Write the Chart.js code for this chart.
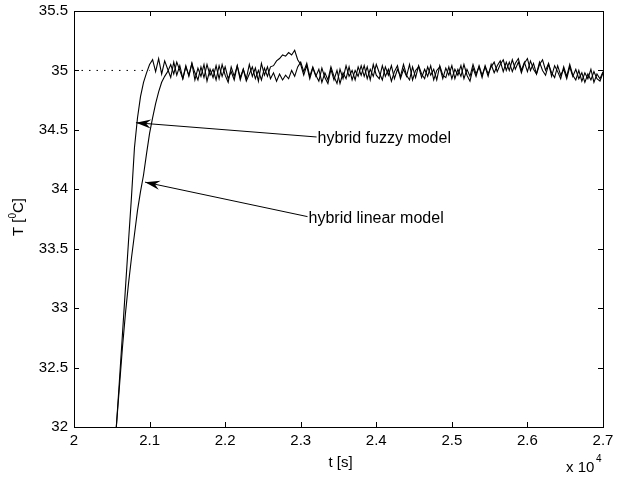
<!DOCTYPE html>
<html>
<head>
<meta charset="utf-8">
<script src="https://cdn.jsdelivr.net/npm/chart.js@4.4.1/dist/chart.umd.min.js"></script>
<style>
  body { margin: 0; background: #fff; }
  #wrap { width: 619px; height: 477px; }
</style>
</head>
<body>
<div id="wrap"><canvas id="c"></canvas></div>
<script>
// sample times (x 10^4 s), uniform grid
var tStart = 2.056, tStep = 0.004, nPts = 162;
var times = [];
for (var i = 0; i < nPts; i++) times.push(+(tStart + tStep * i).toFixed(3));

// hybrid fuzzy model (faster rise)
var fuzzyT = [
  32.00, 32.38, 32.77, 33.16, 33.55, 33.93, 34.35, 34.60, 34.78, 34.90, 34.98, 35.05,
  35.09, 34.99, 35.10, 34.97, 35.08, 35.01, 34.94, 35.07, 34.96, 35.04,
  34.93, 35.03, 34.96, 35.06, 34.92, 35.02, 34.95, 35.05, 34.91, 35.01,
  34.94, 35.04, 34.93, 35.05, 34.96, 34.90, 35.03, 34.95, 35.04, 34.92,
  35.01, 34.93, 35.05, 34.95, 35.02, 34.91, 35.06, 34.96, 35.03, 34.93,
  34.98, 34.91, 34.97, 34.92, 34.96, 34.93, 35.00, 34.95, 35.03, 35.07,
  34.99, 35.06, 34.95, 35.03, 34.96, 34.91, 35.02, 34.94, 34.89, 35.01,
  34.92, 35.00, 34.89, 34.98, 34.93, 35.03, 34.92, 35.00, 34.95, 35.04,
  34.95, 35.03, 34.92, 35.05, 34.96, 34.93, 35.04, 34.95, 35.01, 34.91,
  34.99, 35.04, 34.93, 35.01, 34.95, 35.05, 34.92, 35.00, 35.03, 34.94,
  35.01, 34.95, 35.04, 34.92, 35.00, 35.03, 34.93, 35.02, 34.96, 35.04,
  34.93, 35.01, 34.95, 35.05, 34.96, 34.91, 35.02, 34.95, 35.04, 34.96,
  35.03, 34.95, 35.05, 34.98, 35.04, 35.08, 34.99, 35.07, 35.00, 35.09,
  35.01, 35.07, 34.98, 35.06, 35.10, 35.00, 35.06, 34.97, 35.05, 35.09,
  35.00, 35.06, 34.95, 35.04, 34.99, 34.93, 35.03, 34.95, 35.05, 34.96,
  34.92, 35.00, 34.91, 34.98, 34.93, 35.01, 34.90, 34.97, 34.93, 34.99
];

// hybrid linear model (slower rise, bump near 2.29)
var linearT = [
  32.00, 32.33, 32.66, 32.95, 33.20, 33.42, 33.62, 33.82, 33.98, 34.12, 34.30, 34.47,
  34.60, 34.72, 34.82, 34.90, 34.95, 34.99,
  35.05, 34.97, 35.07, 35.00, 34.93, 35.04, 34.95, 35.06, 34.98, 34.92,
  35.03, 34.94, 35.05, 34.96, 35.01, 34.92, 35.04, 34.95, 35.03, 34.93,
  34.99, 34.92, 35.04, 34.94, 35.01, 34.91, 34.97, 35.03, 34.93, 35.00,
  34.92, 35.02, 34.95, 35.03,
  35.04, 35.08, 35.10, 35.13, 35.12, 35.15, 35.13, 35.17, 35.09, 35.05,
  34.96, 35.04, 34.93, 35.02, 34.95, 35.01, 34.90, 34.98, 34.92, 35.03,
  34.95, 34.89, 35.01, 34.93, 35.04, 34.95, 35.00, 34.92, 35.03, 34.96,
  35.04, 34.93, 35.01, 34.95, 35.05, 34.98, 34.92, 35.03, 34.96, 35.04,
  34.93, 35.01, 34.95, 35.05, 34.96, 34.92, 35.03, 34.94, 35.04, 34.97,
  34.93, 35.03, 34.96, 35.01, 34.92, 35.04, 34.96, 34.94, 35.03, 34.93,
  35.01, 34.96, 35.04, 34.93, 35.01, 34.95, 35.05, 34.97, 35.03, 34.94,
  35.04, 34.97, 35.03, 35.07, 34.99, 35.05, 35.09, 35.00, 35.07, 34.99,
  35.06, 35.10, 35.00, 35.07, 34.99, 35.08, 35.01, 34.97, 35.07, 35.00,
  34.96, 35.05, 34.98, 34.94, 35.04, 34.96, 35.01, 34.93, 35.03, 34.95,
  35.01, 34.93, 34.98, 34.90, 34.97, 34.92, 34.99, 34.93, 34.91, 34.98
];

// setpoint (dotted)
var setX = [2.0, 2.1];
var setT = [35, 35];

// annotations: [tipX, tipY, tailX, tailY, text]
var notes = [
  [2.082, 34.56, 2.321, 34.44, 'hybrid fuzzy model'],
  [2.094, 34.06, 2.309, 33.77, 'hybrid linear model']
];

var xTicks = [2, 2.1, 2.2, 2.3, 2.4, 2.5, 2.6, 2.7];
var yTicks = [32, 32.5, 33, 33.5, 34, 34.5, 35, 35.5];

function pts(xs, ys) {
  var out = [];
  for (var i = 0; i < ys.length; i++) out.push({ x: xs[i], y: ys[i] });
  return out;
}

var FONT = '"Liberation Sans", Arial, sans-serif';

var matlabPlugin = {
  id: 'matlab',
  afterDatasetsDraw: function(chart) {
    var ctx = chart.ctx, xs = chart.scales.x, ys = chart.scales.y;
    ctx.save();
    ctx.strokeStyle = '#000';
    ctx.fillStyle = '#000';
    ctx.lineWidth = 1;
    notes.forEach(function(n) {
      var tx = xs.getPixelForValue(n[0]), ty = ys.getPixelForValue(n[1]);
      var sx = xs.getPixelForValue(n[2]), sy = ys.getPixelForValue(n[3]);
      ctx.beginPath();
      ctx.moveTo(sx, sy);
      ctx.lineTo(tx, ty);
      ctx.stroke();
      var a = Math.atan2(sy - ty, sx - tx);
      var L = 15, W = 4.5, N = 10;
      var c = Math.cos(a), s = Math.sin(a);
      ctx.beginPath();
      ctx.moveTo(tx, ty);
      ctx.lineTo(tx + L * c - W * s, ty + L * s + W * c);
      ctx.lineTo(tx + N * c, ty + N * s);
      ctx.lineTo(tx + L * c + W * s, ty + L * s - W * c);
      ctx.closePath();
      ctx.fill();
      ctx.font = '16px ' + FONT;
      ctx.textAlign = 'left';
      ctx.textBaseline = 'middle';
      ctx.fillText(n[4], sx + 1, sy + 2);
    });
    ctx.restore();
  },
  afterDraw: function(chart) {
    var ctx = chart.ctx, a = chart.chartArea, xs = chart.scales.x, ys = chart.scales.y;
    ctx.save();
    ctx.strokeStyle = '#000';
    ctx.lineWidth = 1;
    ctx.strokeRect(Math.round(a.left) + 0.5, Math.round(a.top) + 0.5,
      Math.round(a.right - a.left), Math.round(a.bottom - a.top));
    var tl = 5;
    ctx.beginPath();
    xTicks.forEach(function(v) {
      var px = Math.round(xs.getPixelForValue(v)) + 0.5;
      ctx.moveTo(px, a.bottom); ctx.lineTo(px, a.bottom - tl);
      ctx.moveTo(px, a.top); ctx.lineTo(px, a.top + tl);
    });
    yTicks.forEach(function(v) {
      var py = Math.round(ys.getPixelForValue(v)) + 0.5;
      ctx.moveTo(a.left, py); ctx.lineTo(a.left + tl, py);
      ctx.moveTo(a.right, py); ctx.lineTo(a.right - tl, py);
    });
    ctx.stroke();

    ctx.fillStyle = '#000';
    ctx.font = '15px ' + FONT;
    ctx.textAlign = 'center';
    ctx.textBaseline = 'middle';
    ctx.fillText('t [s]', (a.left + a.right) / 2 + 2, 463);

    // x 10^4
    ctx.textAlign = 'left';
    ctx.fillText('x 10', 566, 468);
    ctx.font = '10px ' + FONT;
    ctx.fillText('4', 596, 459);

    // y title
    ctx.translate(19, 217);
    ctx.rotate(-Math.PI / 2);
    ctx.font = '15px ' + FONT;
    ctx.textAlign = 'left';
    var w1 = ctx.measureText('T [').width;
    ctx.font = '10px ' + FONT;
    var w2 = ctx.measureText('0').width;
    ctx.font = '15px ' + FONT;
    var w3 = ctx.measureText('C]').width;
    var x0 = -(w1 + w2 + w3) / 2;
    ctx.fillText('T [', x0, 0);
    ctx.font = '10px ' + FONT;
    ctx.fillText('0', x0 + w1, -6);
    ctx.font = '15px ' + FONT;
    ctx.fillText('C]', x0 + w1 + w2, 0);
    ctx.restore();
  }
};

var lineStyle = {
  borderColor: '#000',
  borderWidth: 1.1,
  pointRadius: 0,
  tension: 0,
  fill: false
};

new Chart(document.getElementById('c').getContext('2d'), {
  type: 'line',
  data: {
    datasets: [
      Object.assign({ label: 'setpoint', data: pts(setX, setT), borderDash: [1.5, 6] }, lineStyle, { borderWidth: 1 }),
      Object.assign({ label: 'hybrid fuzzy model', data: pts(times, fuzzyT) }, lineStyle),
      Object.assign({ label: 'hybrid linear model', data: pts(times, linearT) }, lineStyle)
    ]
  },
  options: {
    responsive: true,
    maintainAspectRatio: false,
    animation: false,
    layout: { padding: { top: 11, right: 16, left: 0, bottom: 0 } },
    plugins: { legend: { display: false }, tooltip: { enabled: false } },
    scales: {
      x: {
        type: 'linear',
        min: 2, max: 2.7,
        grid: { display: false, drawTicks: false },
        border: { display: false },
        afterFit: function(s) { s.height = 50; s.paddingLeft = 0; s.paddingRight = 0; },
        afterBuildTicks: function(s) { s.ticks = xTicks.map(function(v) { return { value: v }; }); },
        ticks: {
          padding: 5,
          color: '#000',
          font: { family: FONT, size: 15 },
          maxRotation: 0,
          callback: function(v) { return String(Number(v.toFixed(1))); }
        }
      },
      y: {
        min: 32, max: 35.5,
        grid: { display: false, drawTicks: false },
        border: { display: false },
        afterFit: function(s) { s.width = 74; s.paddingTop = 0; s.paddingBottom = 0; },
        afterBuildTicks: function(s) { s.ticks = yTicks.map(function(v) { return { value: v }; }); },
        ticks: {
          padding: 6,
          color: '#000',
          font: { family: FONT, size: 15 },
          callback: function(v) { return String(Number(v.toFixed(1))); }
        }
      }
    }
  },
  plugins: [matlabPlugin]
});
</script>
</body>
</html>
